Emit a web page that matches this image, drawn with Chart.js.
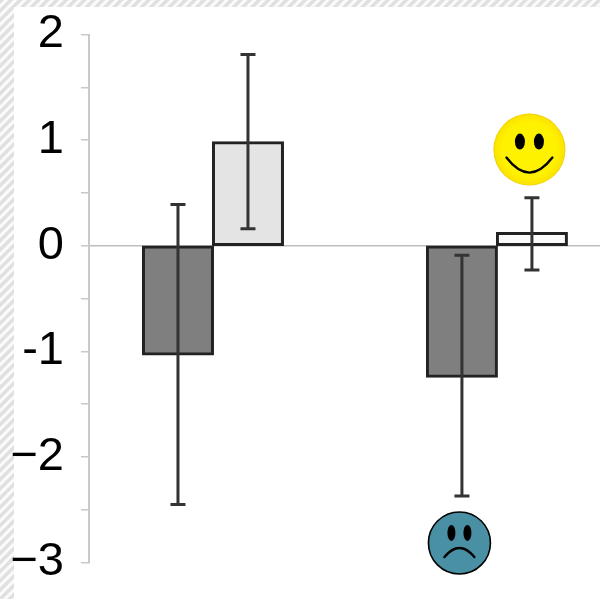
<!DOCTYPE html>
<html>
<head>
<meta charset="utf-8">
<script src="https://cdn.jsdelivr.net/npm/chart.js@4/dist/chart.umd.min.js"></script>
<style>
html, body { margin: 0; padding: 0; }
body {
    width: 600px; height: 599px; position: relative; overflow: hidden;
    background: repeating-linear-gradient(135deg, #e0e0e0 0, #e0e0e0 2.5px, #fbfbfb 3.5px, #fbfbfb 5.5px, #e0e0e0 6.5px);
}
#panel { position: absolute; left: 14px; top: 7px; right: 0; bottom: 0; background: #fff; }
#box { position: absolute; left: 0; top: 0; width: 600px; height: 599px; }
#bar-chart { display: block; filter: blur(0.4px); }
</style>
</head>
<body>
<div id="panel"></div>
<div id="box"><canvas id="bar-chart" width="600" height="599"></canvas></div>
<script>
const groupX = [1, 2];
const darkValues = [-1.03, -1.24];
const lightValues = [0.98, 0.12];
const darkErrTop = [0.39, -0.09];
const darkErrBottom = [-2.45, -2.37];
const lightErrTop = [1.81, 0.455];
const lightErrBottom = [0.16, -0.23];
const tickLabels = { '2': '2', '1': '1', '0': '0', '-1': '-1', '-2': '\u22122', '-3': '\u22123' };

function toPoints(values) {
    return values.map((v, i) => ({ x: groupX[i], y: v }));
}

// error bars on top of the bars, read from the arrays above
const errorBars = {
    id: 'errorBars',
    afterDatasetsDraw(chart) {
        const ctx = chart.ctx;
        const yScale = chart.scales.y;
        const sets = [[darkErrTop, darkErrBottom], [lightErrTop, lightErrBottom]];
        ctx.save();
        ctx.strokeStyle = '#333';
        sets.forEach((pair, d) => {
            chart.getDatasetMeta(d).data.forEach((bar, i) => {
                const top = yScale.getPixelForValue(pair[0][i]);
                const bottom = yScale.getPixelForValue(pair[1][i]);
                ctx.lineWidth = 3;
                ctx.beginPath();
                ctx.moveTo(bar.x, top);
                ctx.lineTo(bar.x, bottom);
                ctx.stroke();
                ctx.beginPath();
                ctx.moveTo(bar.x - 7.5, top);
                ctx.lineTo(bar.x + 7.5, top);
                ctx.moveTo(bar.x - 7.5, bottom);
                ctx.lineTo(bar.x + 7.5, bottom);
                ctx.stroke();
            });
        });
        ctx.restore();
    }
};

function drawFace(ctx, x, y, r, happy) {
    ctx.save();
    if (happy) {
        const g = ctx.createRadialGradient(x, y, r * 0.75, x, y, r);
        g.addColorStop(0, '#fff200');
        g.addColorStop(0.85, '#fbe400');
        g.addColorStop(1, '#e8c800');
        ctx.fillStyle = g;
    } else {
        ctx.fillStyle = '#4a90a4';
    }
    ctx.beginPath();
    ctx.arc(x, y, r, 0, Math.PI * 2);
    ctx.fill();
    if (!happy) {
        ctx.strokeStyle = '#000';
        ctx.lineWidth = 1.6;
        ctx.stroke();
    }
    ctx.fillStyle = '#000';
    const ex = happy ? 9.5 : 8;
    const ey = happy ? 8 : 10;
    const rx = happy ? 5 : 4;
    const ry = 8;
    [-1, 1].forEach(side => {
        ctx.beginPath();
        ctx.ellipse(x + side * ex, y - ey, rx, ry, 0, 0, Math.PI * 2);
        ctx.fill();
    });
    ctx.strokeStyle = '#000';
    ctx.lineCap = 'round';
    ctx.beginPath();
    if (happy) {
        ctx.lineWidth = 2.4;
        ctx.moveTo(x - 23, y + 8);
        ctx.quadraticCurveTo(x, y + 38, x + 23, y + 8);
    } else {
        ctx.lineWidth = 2.4;
        ctx.moveTo(x - 15, y + 14);
        ctx.quadraticCurveTo(x, y - 4, x + 15, y + 14);
    }
    ctx.stroke();
    ctx.restore();
}

// the two smileys sit next to the second group of bars
const faces = {
    id: 'faces',
    afterDatasetsDraw(chart) {
        const yScale = chart.scales.y;
        const darkBar = chart.getDatasetMeta(0).data[1];
        const lightBar = chart.getDatasetMeta(1).data[1];
        drawFace(chart.ctx, lightBar.x - 2.5, yScale.getPixelForValue(0.91), 36, true);
        drawFace(chart.ctx, darkBar.x - 2.5, yScale.getPixelForValue(-2.815), 31, false);
    }
};

new Chart(document.getElementById('bar-chart').getContext('2d'), {
    type: 'bar',
    data: {
        datasets: [
            {
                data: toPoints(darkValues),
                backgroundColor: ['#7f7f7f', '#7f7f7f'],
                borderColor: '#222',
                borderWidth: 3,
                borderSkipped: false,
                inflateAmount: 1,
                barThickness: 70
            },
            {
                data: toPoints(lightValues),
                backgroundColor: ['#e4e4e4', '#fbfbfb'],
                borderColor: '#222',
                borderWidth: 3,
                borderSkipped: false,
                inflateAmount: 1,
                barThickness: 70
            }
        ]
    },
    options: {
        responsive: false,
        animation: false,
        devicePixelRatio: 1,
        layout: { padding: { top: 34.5, bottom: 36.5, left: 0, right: 0 } },
        plugins: { legend: { display: false }, tooltip: { enabled: false } },
        scales: {
            x: {
                type: 'linear',
                offset: false,
                position: { y: 0 },
                min: 0.5634,
                max: 2.363,
                ticks: { display: false },
                grid: { display: false },
                border: { color: '#bdbdbd', width: 1.5 }
            },
            y: {
                min: -3,
                max: 2,
                afterFit(scale) {
                    scale.width = 89;
                    // labels may hang past the axis ends, the top and bottom margins are fixed
                    scale.paddingTop = 0;
                    scale.paddingBottom = 0;
                },
                ticks: {
                    stepSize: 0.5,
                    autoSkip: false,
                    padding: 17,
                    color: '#000',
                    font: { family: '"Liberation Sans"', size: 47 },
                    callback: value => tickLabels[String(value)] || ''
                },
                grid: { drawOnChartArea: false, tickLength: 8, color: '#c9c9c9', lineWidth: 1.5 },
                border: { color: '#c9c9c9', width: 2 }
            }
        }
    },
    plugins: [errorBars, faces]
});
</script>
</body>
</html>
